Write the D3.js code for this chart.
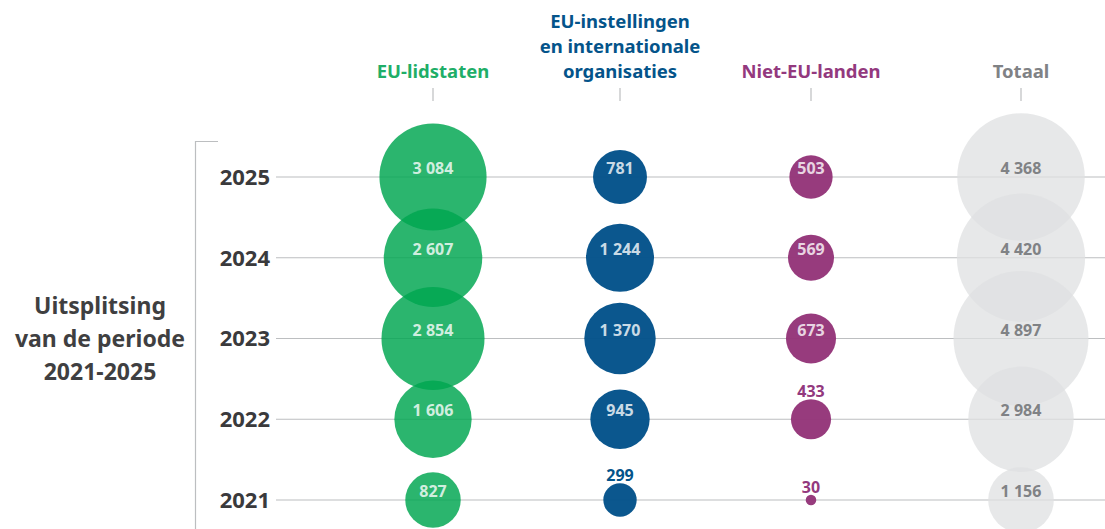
<!DOCTYPE html>
<html>
<head>
<meta charset="utf-8">
<script src="https://cdn.jsdelivr.net/npm/d3@7"></script>
<style>
  body { margin: 0; background: #fff; }
  text { font-family: "Noto Sans", "Open Sans", sans-serif; font-weight: bold; }
</style>
</head>
<body>
<script>
var years = ["2025", "2024", "2023", "2022", "2021"];
var groups = ["EU-lidstaten", "EU-instellingen en internationale organisaties", "Niet-EU-landen", "Totaal"];
var headerLines = [["EU-lidstaten"], ["EU-instellingen", "en internationale", "organisaties"], ["Niet-EU-landen"], ["Totaal"]];
var euMembers = [3084, 2607, 2854, 1606, 827];
var euInstitutions = [781, 1244, 1370, 945, 299];
var nonEu = [503, 569, 673, 433, 30];
var totals = [4368, 4420, 4897, 2984, 1156];
var colors = ["#00a651", "#03528a", "#943579", "#dfe0e2"];
var opacities = [0.83, 0.97, 0.97, 0.75];
var labelColors = ["#1fae68", "#04548a", "#93397e", "#808285"];

var width = 1105, height = 529;

var series = [euMembers, euInstitutions, nonEu, totals];
var data = [];
series.forEach(function (s, gi) {
    s.forEach(function (v, yi) {
        data.push({ group: groups[gi], gi: gi, year: years[yi], value: v });
    });
});

// columns are not evenly spaced in the original
var xPos = d3.scaleOrdinal().domain(groups).range([433, 620, 811, 1021]);
var y = d3.scalePoint().domain(years).range([177, 500]);
var r = d3.scaleSqrt().domain([0, 4897]).range([0, 67.5]);

var svg = d3.select("body").append("svg")
    .attr("width", width)
    .attr("height", height);

// grid lines
svg.append("g").selectAll("line")
    .data(years)
    .enter().append("line")
    .attr("x1", 276).attr("x2", width)
    .attr("y1", function (d) { return y(d); })
    .attr("y2", function (d) { return y(d); })
    .attr("stroke", "#bcbec0")
    .attr("stroke-width", 1.2);

// bracket
svg.append("path")
    .attr("d", "M218,141.5H195.5V" + height)
    .attr("fill", "none")
    .attr("stroke", "#bcbec0")
    .attr("stroke-width", 1.2);

// year labels
svg.append("g").selectAll("text")
    .data(years)
    .enter().append("text")
    .attr("x", 270)
    .attr("y", function (d) { return y(d); })
    .attr("dy", "0.36em")
    .attr("text-anchor", "end")
    .attr("font-size", 22)
    .attr("fill", "#3a3a3c")
    .text(function (d) { return d; });

// title
svg.append("text")
    .attr("x", 100)
    .attr("y", 314)
    .attr("text-anchor", "middle")
    .attr("font-size", 23)
    .attr("fill", "#3f3f41")
    .selectAll("tspan")
    .data(["Uitsplitsing", "van de periode", "2021-2025"])
    .enter().append("tspan")
    .attr("x", 100)
    .attr("dy", function (d, i) { return i ? 33 : 0; })
    .text(function (d) { return d; });

// column headers
var header = svg.append("g").selectAll("g")
    .data(groups)
    .enter().append("g");

header.append("text")
    .attr("text-anchor", "middle")
    .attr("font-size", 18.5)
    .attr("fill", function (d, i) { return labelColors[i]; })
    .each(function (d, i) {
        var lines = headerLines[i];
        d3.select(this).selectAll("tspan")
            .data(lines)
            .enter().append("tspan")
            .attr("x", xPos(d))
            .attr("y", function (l, j) { return 78 - (lines.length - 1 - j) * 25; })
            .text(function (l) { return l; });
    });

header.append("line")
    .attr("x1", function (d) { return xPos(d); })
    .attr("x2", function (d) { return xPos(d); })
    .attr("y1", 88).attr("y2", 101)
    .attr("stroke", "#bcbec0")
    .attr("stroke-width", 1.2);

// bubbles
svg.append("g").selectAll("circle")
    .data(data)
    .enter().append("circle")
    .attr("cx", function (d) { return xPos(d.group); })
    .attr("cy", function (d) { return y(d.year); })
    .attr("r", function (d) { return r(d.value); })
    .attr("fill", function (d) { return colors[d.gi]; })
    .attr("fill-opacity", function (d) { return opacities[d.gi]; });

// value labels
var fmt = function (v) { return d3.format(",")(v).replace(/,/g, " "); };
svg.append("g").selectAll("text")
    .data(data)
    .enter().append("text")
    .attr("x", function (d) { return xPos(d.group); })
    .attr("y", function (d) {
        var rr = r(d.value);
        return rr < 21 ? y(d.year) - rr - 2 : y(d.year) - 3;
    })
    .attr("text-anchor", "middle")
    .attr("font-size", 16)
    .attr("fill", function (d) {
        if (d.gi === 3) return "#808285";
        return r(d.value) < 21 ? labelColors[d.gi] : "rgba(255,255,255,0.8)";
    })
    .text(function (d) { return fmt(d.value); });
</script>
</body>
</html>
